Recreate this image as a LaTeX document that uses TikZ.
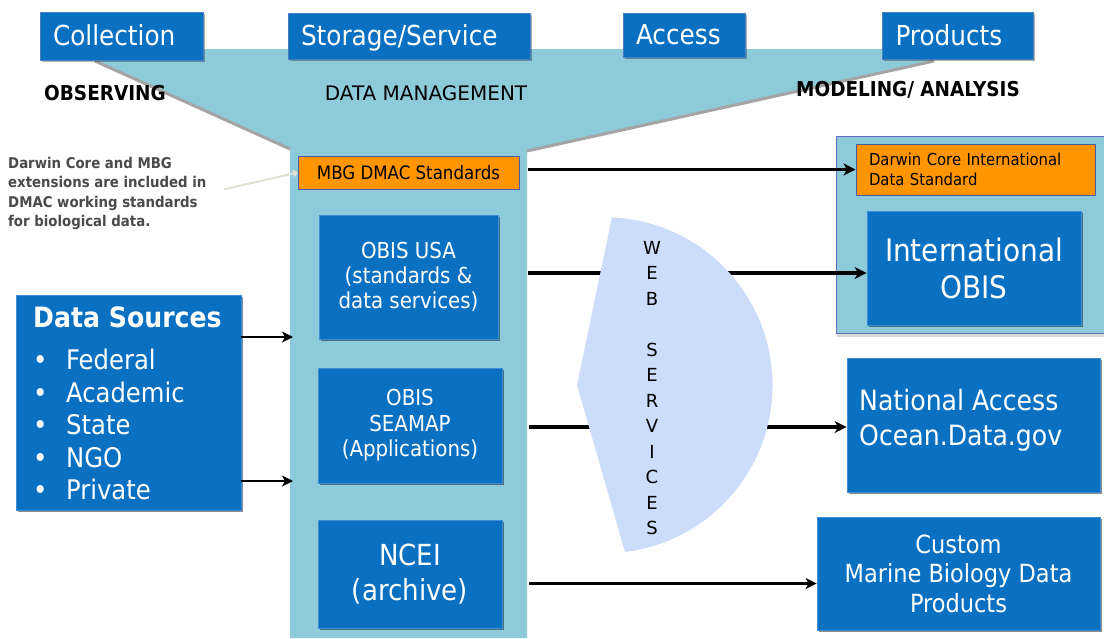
\documentclass[tikz,border=0pt]{standalone}
\usepackage{fontspec}
\setmainfont{DejaVu Sans Condensed}
\newfontfamily\widefont{DejaVu Sans}
\usetikzlibrary{arrows.meta,shadows}
\definecolor{boxblue}{HTML}{0970C2}
\definecolor{boxedge}{HTML}{3D8DD6}
\definecolor{hdredge}{HTML}{4A7EC0}
\definecolor{funnel}{HTML}{8ECBDA}
\definecolor{orangebox}{HTML}{FF9500}
\definecolor{orangeedge}{HTML}{4A58A8}
\definecolor{webfill}{HTML}{CCDCFB}
\definecolor{paneledge}{HTML}{5C6CBA}
\definecolor{edgegray}{HTML}{A4A4A4}
\definecolor{notegray}{HTML}{4A4A4A}
\definecolor{notearrow}{HTML}{E0E0D0}
\tikzset{
  hdr/.style={fill=boxblue, draw=hdredge, line width=1pt, text=white,
    font=\fontsize{27.5}{32}\selectfont, inner xsep=13pt, inner ysep=0pt, align=left,
    text height=20pt, text depth=1pt,
    drop shadow={shadow xshift=1.5pt, shadow yshift=-1.5pt, opacity=0.3, fill=black}},
  bluebox/.style={fill=boxblue, draw=boxedge, line width=0.8pt, text=white, align=center,
    inner sep=0pt, drop shadow={shadow xshift=2pt, shadow yshift=-2pt, opacity=0.45, fill=black}},
  orangebox/.style={fill=orangebox, draw=orangeedge, line width=1pt, text=black, inner sep=0pt},
  arr/.style={line width=3.2pt, -{Stealth[length=12pt,width=12pt,inset=3.5pt]}},
  thinarr/.style={line width=2.6pt, -{Stealth[length=11pt,width=11pt,inset=3pt]}},
  notearr/.style={line width=2pt, draw=notearrow, -{To[length=5pt,width=7pt]}},
  edge/.style={draw=edgegray, line width=3pt},
  collabel/.style={text=black, inner sep=0pt}
}
\begin{document}
\begin{tikzpicture}[x=1pt,y=-1pt]
\useasboundingbox (0,0) rectangle (1104,638);
\fill[white] (0,0) rectangle (1104,638);
% funnel
\fill[funnel] (95,60) -- (95,49) -- (935,49) -- (935,60) -- (527,150) -- (527,638) -- (290,638) -- (290,148) -- cycle;
\draw[edge] (95,61) -- (290,149);
\draw[edge] (934,61) -- (527,151);
\coordinate (colR) at (528,0);
\coordinate (colL) at (290,0);
% headers
\node[hdr, text width=137pt, minimum height=48pt] (coll) at (121.5,36) {Collection};
\node[hdr, text width=216pt, minimum height=46pt] (stor) at (409,36) {Storage/Service};
\node[hdr, text width=96pt, minimum height=44pt] (acc) at (684,35) {Access};
\node[hdr, text width=125pt, minimum height=47pt] (prod) at (958,36) {Products};
% column labels
\node[collabel, font=\bfseries\fontsize{20.5}{24}\selectfont] (obs) at (105,93) {OBSERVING};
\node[collabel, font=\widefont\fontsize{20}{24}\selectfont] (dm) at (426,93) {DATA MANAGEMENT};
\node[collabel, font=\bfseries\fontsize{20.5}{24}\selectfont] (mod) at (908,90) {MODELING/ ANALYSIS};
% note
\node[anchor=north west, inner sep=0pt, align=left, text=notegray,
  font=\bfseries\fontsize{14.8}{19.3}\selectfont] (note) at (8,157)
  {Darwin Core and MBG\\extensions are included in\\DMAC working standards\\for biological data.};
% data management column
\node[orangebox, minimum width=221pt, minimum height=33pt, font=\fontsize{18.5}{22}\selectfont] (mbg) at (408.5,172.5) {MBG DMAC Standards};
\node[bluebox, minimum width=179pt, minimum height=124pt, font=\fontsize{22}{25}\selectfont] (obisusa) at (408.5,277) {OBIS USA\\(standards \&\\data services)};
\node[bluebox, minimum width=184pt, minimum height=115pt, font=\fontsize{22}{25.5}\selectfont] (seamap) at (410,425.5) {OBIS\\SEAMAP\\(Applications)};
\node[bluebox, minimum width=184pt, minimum height=108pt, font=\fontsize{29}{35}\selectfont] (ncei) at (410,574) {NCEI\\(archive)};
% data sources
\node[bluebox, minimum width=225pt, minimum height=215pt] (ds) at (128.5,402.5) {};
\node[anchor=north west, inner sep=0pt, align=left, text=white,
  font=\fontsize{27}{32.5}\selectfont] (dstext) at (33,307)
  {{\bfseries\fontsize{28}{32.5}\selectfont Data Sources}\\[9.5pt]
   \makebox[33pt][l]{\textbullet}Federal\\
   \makebox[33pt][l]{\textbullet}Academic\\
   \makebox[33pt][l]{\textbullet}State\\
   \makebox[33pt][l]{\textbullet}NGO\\
   \makebox[33pt][l]{\textbullet}Private};
% right panel
\node[draw=paneledge, fill=funnel, line width=1.2pt, minimum width=270pt, minimum height=197pt,
  inner sep=0pt, anchor=north west, drop shadow={shadow xshift=0pt, shadow yshift=-3pt, opacity=0.15, fill=black}] (panel) at (836,136) {};
\node[orangebox, text width=213pt, inner xsep=13pt, minimum height=51pt, align=left,
  font=\fontsize{16.5}{20}\selectfont] (dwc) at (975.5,169.5) {Darwin Core International\\Data Standard};
\node[bluebox, minimum width=214pt, minimum height=114pt, font=\fontsize{31}{37}\selectfont] (intobis) at (974,268) {International\\OBIS};
\node[bluebox, minimum width=253pt, minimum height=134pt] (natl) at (973.5,425) {};
\node[anchor=west, inner sep=0pt, align=left, text=white, font=\fontsize{28}{35}\selectfont] (natltext) at (859,420) {National Access\\Ocean.Data.gov};
\node[bluebox, minimum width=283pt, minimum height=113pt, font=\fontsize{25}{29.5}\selectfont] (custom) at (958.5,573.5) {Custom\\Marine Biology Data\\Products};
% connectors
\draw[arr] (colR |- dwc.west) -- (dwc.west);
\coordinate (u1) at ([shift={(30,-4)}]obisusa.east);
\draw[arr] (u1) -- (u1 -| intobis.west);
\coordinate (u2) at ([shift={(27,1.5)}]seamap.east);
\draw[arr] (u2) -- (u2 -| natl.west);
\coordinate (u3) at ([shift={(27,9.5)}]ncei.east);
\draw[thinarr] (u3) -- (u3 -| custom.west);
\coordinate (d1) at ([shift={(0,-65.5)}]ds.east);
\draw[thinarr] (d1) -- ([xshift=3pt]d1 -| colL);
\coordinate (d2) at ([shift={(0,78.5)}]ds.east);
\draw[thinarr] (d2) -- ([xshift=3pt]d2 -| colL);
\draw[notearr, shorten <=18pt] (note.east) -- (mbg.west);
% web services
\fill[webfill] (612,217) -- (577,385) -- (625,552) arc[start angle=83, end angle=-88, radius=168] -- cycle;
\node[inner sep=0pt, align=center, text=black, font=\widefont\fontsize{18}{25.5}\selectfont] (wst) at (652,388)
  {W\\E\\B\\[25.5pt]S\\E\\R\\V\\I\\C\\E\\S};
\end{tikzpicture}
\end{document}
